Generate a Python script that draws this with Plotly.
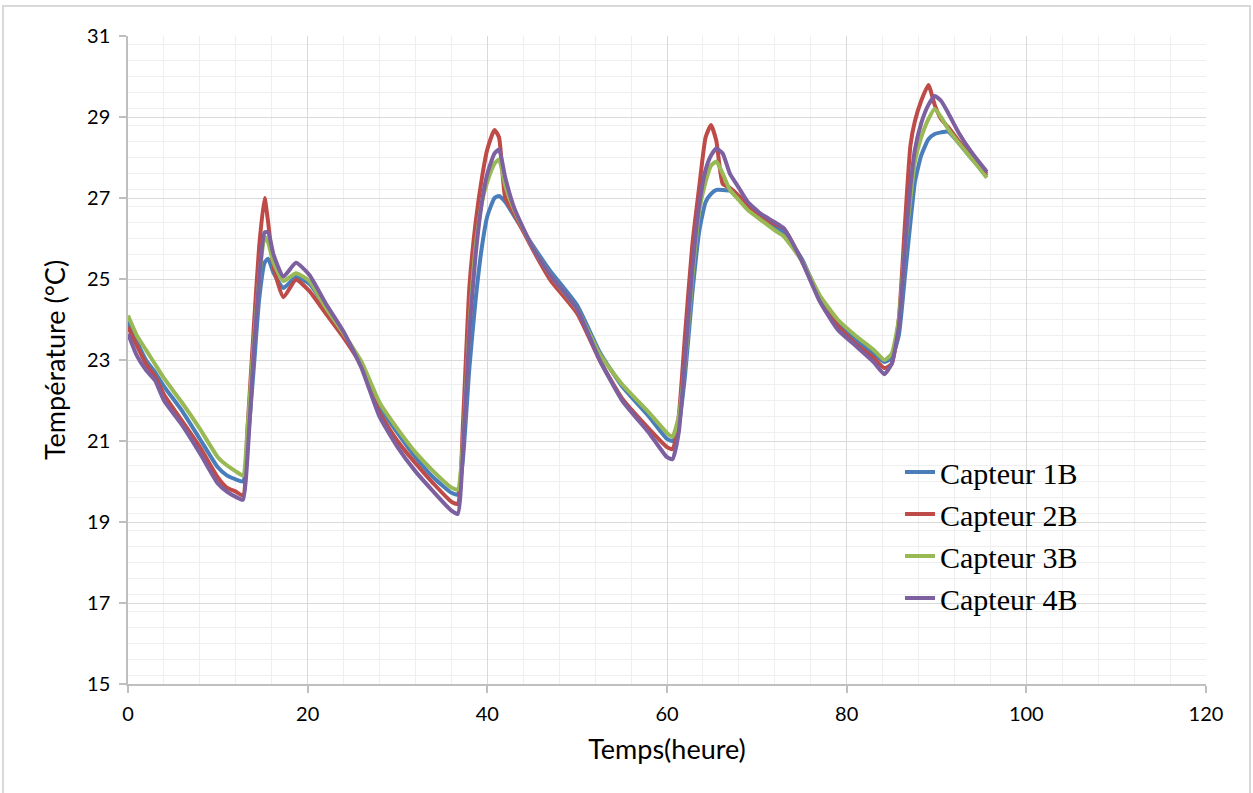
import plotly.graph_objects as go

# Time (hours)
temps = [0, 1, 2, 3, 4, 6, 8, 10, 11, 12, 12.8, 13.3, 14, 14.6, 15.2, 15.6, 16.2, 17.3, 18.7, 20.2,
         22, 24, 26, 28, 30, 32, 34, 36, 36.7, 37.3, 38, 38.7, 39.4, 40, 40.8, 41.3, 42, 43, 45, 47,
         50, 52.5, 55, 58, 60, 60.6, 61.3, 62, 62.8, 63.6, 64.3, 64.9, 65.5, 66.2, 67, 68, 69, 70.5, 72, 73,
         75, 77, 79, 81, 83, 84.2, 85, 85.8, 86.5, 87.1, 87.6, 88.3, 89.1, 89.8, 90.5, 91.3, 92.5, 94, 95.6]

capteur_1b = [23.95, 23.45, 23.0, 22.7, 22.35, 21.75, 21.05, 20.35, 20.15, 20.05, 20.0, 20.9, 22.8, 24.5, 25.4, 25.5, 25.15, 24.78, 25.05, 24.88,
              24.3, 23.62, 22.9, 21.85, 21.2, 20.6, 20.1, 19.72, 19.68, 20.6, 22.8, 24.5, 25.8, 26.55, 27.0, 27.05, 26.9, 26.55, 25.85, 25.2,
              24.35, 23.2, 22.35, 21.6, 21.05, 21.0, 21.4, 22.6, 24.6, 26.2, 26.9, 27.1, 27.2, 27.2, 27.18, 27.0, 26.75, 26.5, 26.3, 26.15,
              25.5, 24.55, 23.9, 23.5, 23.15, 22.95, 23.05, 23.6, 25.1, 26.4, 27.4, 28.05, 28.45, 28.58, 28.62, 28.64, 28.35, 27.95, 27.55]

capteur_2b = [23.82, 23.35, 22.9, 22.6, 22.15, 21.5, 20.85, 20.1, 19.85, 19.75, 19.65, 21.3, 23.8, 25.8, 27.0, 26.4, 25.3, 24.55, 24.98, 24.7,
              24.15, 23.55, 22.85, 21.7, 21.0, 20.45, 19.95, 19.5, 19.45, 21.5, 24.8, 26.4, 27.5, 28.2, 28.68, 28.5, 27.0, 26.6, 25.75, 24.98,
              24.15, 23.0, 22.05, 21.3, 20.85, 20.8, 21.6, 23.6, 25.8, 27.3, 28.5, 28.8, 28.4, 27.35, 27.25, 27.05, 26.8, 26.55, 26.35, 26.25,
              25.45, 24.5, 23.85, 23.4, 23.05, 22.8, 22.9, 24.0, 26.4, 28.3, 28.9, 29.4, 29.79, 29.3, 28.95, 28.75, 28.4, 28.0, 27.6]

capteur_3b = [24.1, 23.6, 23.25, 22.9, 22.55, 21.95, 21.3, 20.6, 20.4, 20.25, 20.15, 21.3, 23.4, 25.0, 26.05, 25.9, 25.4, 24.95, 25.14, 24.95,
              24.3, 23.65, 22.95, 21.95, 21.3, 20.72, 20.25, 19.85, 19.8, 21.0, 23.8, 25.8, 26.9, 27.4, 27.85, 27.95, 27.3, 26.7, 25.8, 25.1,
              24.25, 23.15, 22.4, 21.7, 21.2, 21.1, 21.6, 22.9, 25.0, 26.7, 27.4, 27.8, 27.9, 27.6, 27.2, 26.95, 26.7, 26.45, 26.2, 26.05,
              25.45, 24.6, 24.0, 23.6, 23.25, 23.0, 23.15, 24.0, 25.8, 27.0, 27.9, 28.5, 28.95, 29.2, 29.0, 28.7, 28.35, 27.95, 27.5]

capteur_4b = [23.65, 23.1, 22.75, 22.5, 22.0, 21.4, 20.7, 19.95, 19.75, 19.62, 19.55, 20.6, 23.2, 25.0, 26.15, 26.15, 25.6, 25.06, 25.4, 25.1,
              24.4, 23.7, 22.8, 21.6, 20.85, 20.25, 19.75, 19.28, 19.2, 20.8, 23.7, 25.6, 26.9, 27.6, 28.1, 28.2, 27.5, 26.75, 25.8, 25.1,
              24.25, 23.0, 22.0, 21.2, 20.6, 20.55, 21.2, 23.0, 25.2, 26.85, 27.7, 28.05, 28.22, 28.1, 27.6, 27.25, 26.9, 26.6, 26.4, 26.25,
              25.45, 24.45, 23.75, 23.35, 22.95, 22.65, 22.9, 23.8, 25.8, 27.3, 28.2, 28.85, 29.3, 29.52, 29.4, 29.1, 28.6, 28.1, 27.65]

series_names = ["Capteur 1B", "Capteur 2B", "Capteur 3B", "Capteur 4B"]
series_values = [capteur_1b, capteur_2b, capteur_3b, capteur_4b]
colors = ["#4A7EBB", "#BE4B48", "#98B954", "#7D60A0"]

fig = go.Figure()
for name, vals, col in zip(series_names, series_values, colors):
    fig.add_trace(go.Scatter(
        x=temps, y=vals, name=name, mode="lines",
        line=dict(color=col, width=4, shape="spline", smoothing=0.5),
        legendgroup=name,
    ))

W, H = 1253, 793
ml, mr, mt, mb = 128, 47, 36, 109
pw, ph = W - ml - mr, H - mt - mb

def px_to_paper(x, y):
    return (x - ml) / pw, (H - mb - y) / ph

bx0, by0 = px_to_paper(3, 820)
bx1, by1 = px_to_paper(1250, 6)

fig.update_layout(
    width=W, height=H,
    margin=dict(l=ml, r=mr, t=mt, b=mb),
    paper_bgcolor="white", plot_bgcolor="white",
    font=dict(family="Lato, Carlito, Calibri, sans-serif", color="#000000"),
    showlegend=True,
    legend=dict(
        x=(900 - ml) / pw, y=(684 - 446) / ph, xanchor="left", yanchor="top",
        bgcolor="rgba(0,0,0,0)", borderwidth=0,
        font=dict(family="Liberation Serif, Times New Roman, serif", size=30, color="#000000"),
        traceorder="grouped", tracegroupgap=0,
    ),
    xaxis=dict(
        range=[0, 120], tick0=0, dtick=20,
        showgrid=True, gridcolor="#d9d9d9", gridwidth=1,
        minor=dict(dtick=4, showgrid=True, gridcolor="#efefef", gridwidth=1),
        showline=True, linecolor="#bfbfbf", linewidth=1.5,
        ticks="outside", ticklen=7, tickcolor="#bfbfbf", tickwidth=1.5,
        tickfont=dict(size=20), ticklabelstandoff=4,
        zeroline=False,
        title=dict(text="Temps(heure)", font=dict(size=27), standoff=16),
    ),
    yaxis=dict(
        range=[15, 31], tick0=15, dtick=2,
        showgrid=True, gridcolor="#d9d9d9", gridwidth=1,
        minor=dict(dtick=0.4, showgrid=True, gridcolor="#efefef", gridwidth=1),
        showline=True, linecolor="#bfbfbf", linewidth=1.5,
        ticks="outside", ticklen=7, tickcolor="#bfbfbf", tickwidth=1.5,
        tickfont=dict(size=20), ticklabelstandoff=5,
        zeroline=False,
        title=dict(text="Température (°C)", font=dict(size=27), standoff=14),
    ),
    shapes=[dict(type="rect", xref="paper", yref="paper",
                 x0=bx0, y0=by0, x1=bx1, y1=by1,
                 line=dict(color="#d9d9d9", width=2), fillcolor="rgba(0,0,0,0)", layer="below")],
)

fig.write_html("out.html", config={"displayModeBar": False},
               post_script="document.body.style.margin='0px';document.body.style.overflow='hidden';")
